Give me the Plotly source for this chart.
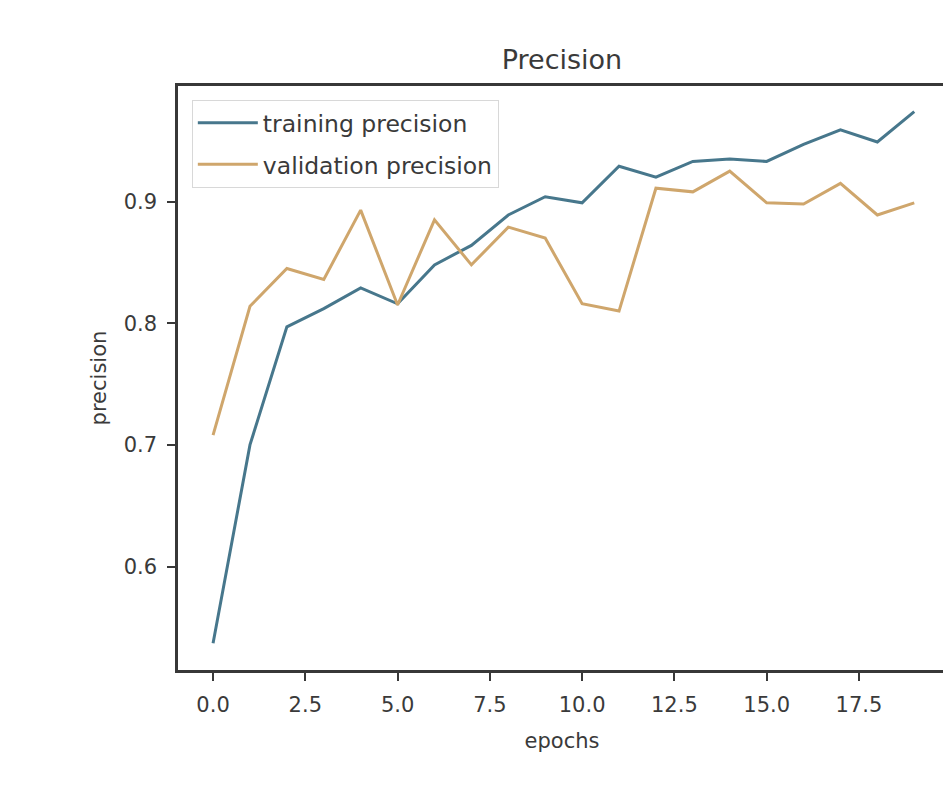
import plotly.graph_objects as go

epochs = list(range(20))
training_precision = [0.537, 0.700, 0.797, 0.812, 0.829, 0.816, 0.848, 0.864, 0.889, 0.904,
                      0.899, 0.929, 0.920, 0.933, 0.935, 0.933, 0.947, 0.959, 0.949, 0.974]
validation_precision = [0.708, 0.814, 0.845, 0.836, 0.893, 0.815, 0.885, 0.848, 0.879, 0.870,
                        0.816, 0.810, 0.911, 0.908, 0.925, 0.899, 0.898, 0.915, 0.889, 0.899]
x_ticks = [0, 2.5, 5, 7.5, 10, 12.5, 15, 17.5]
x_tick_text = ["0.0", "2.5", "5.0", "7.5", "10.0", "12.5", "15.0", "17.5"]
y_ticks = [0.6, 0.7, 0.8, 0.9]
y_tick_text = ["0.6", "0.7", "0.8", "0.9"]

FONT = "DejaVu Sans"
TXT = "#3a3a3a"
W, H = 943, 798

fig = go.Figure()
fig.add_trace(go.Scatter(x=epochs, y=training_precision, mode="lines",
                         name="training precision", legendgroup="a",
                         line=dict(color="#47778c", width=3)))
fig.add_trace(go.Scatter(x=epochs, y=validation_precision, mode="lines",
                         name="validation precision", legendgroup="b",
                         line=dict(color="#cfa66c", width=3)))

fig.update_layout(
    width=W, height=H,
    margin=dict(l=170, r=2, t=78, b=136),
    paper_bgcolor="white", plot_bgcolor="white",
    font=dict(family=FONT, color=TXT),
    title=dict(text="Precision", font=dict(size=27, color=TXT, family=FONT),
               x=0.5, xref="paper", xanchor="center",
               y=1 - 52 / H, yref="container", yanchor="middle"),
    legend=dict(x=0.018, y=0.976, xanchor="left", yanchor="top",
                bgcolor="white", bordercolor="#d8d8d8", borderwidth=1,
                font=dict(size=23.5, color=TXT, family=FONT),
                itemwidth=60, tracegroupgap=8),
    showlegend=True,
)
fig.update_xaxes(
    range=[-0.95, 19.86], tickvals=x_ticks, ticktext=x_tick_text,
    showgrid=False, zeroline=False,
    showline=True, mirror=True, linecolor="#383838", linewidth=2.5,
    ticks="outside", ticklen=8, tickwidth=1.5, tickcolor="#383838",
    tickfont=dict(size=21, color=TXT, family=FONT),
    ticklabelstandoff=6,
    title=dict(text="epochs", font=dict(size=21, color=TXT, family=FONT), standoff=18),
)
fig.update_yaxes(
    range=[0.515, 0.995], tickvals=y_ticks, ticktext=y_tick_text,
    showgrid=False, zeroline=False,
    showline=True, mirror=True, linecolor="#383838", linewidth=2.5,
    ticks="outside", ticklen=8, tickwidth=1.5, tickcolor="#383838",
    tickfont=dict(size=21, color=TXT, family=FONT),
    ticklabelstandoff=6,
    title=dict(text="precision", font=dict(size=21, color=TXT, family=FONT), standoff=12),
)

fig.write_html("out.html")
